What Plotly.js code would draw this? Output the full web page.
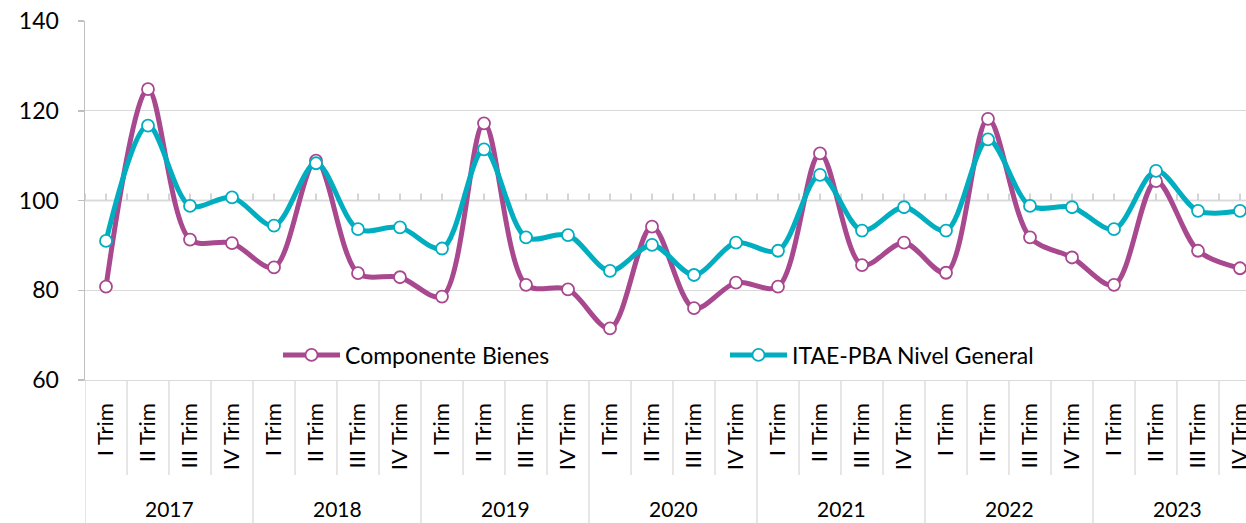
<!DOCTYPE html>
<html>
<head>
<meta charset="utf-8">
<script src="https://cdn.plot.ly/plotly-3.0.1.min.js"></script>
<style>html,body{margin:0;padding:0;background:#fff;overflow:hidden}#chart{width:1246px;height:523px}</style>
</head>
<body>
<div id="chart"></div>
<script>
const years = ["2017","2018","2019","2020","2021","2022","2023"];
const quarters = ["I Trim","II Trim","III Trim","IV Trim"];
const componenteBienes = [
  80.8,124.8,91.3,90.5,
  85.1,108.9,83.8,82.9,
  78.6,117.2,81.2,80.2,
  71.5,94.2,76.0,81.7,
  80.8,110.5,85.6,90.6,
  83.9,118.2,91.8,87.3,
  81.2,104.3,88.8,84.9
];
const itaeNivelGeneral = [
  91.0,116.7,98.8,100.7,
  94.4,108.3,93.6,94.0,
  89.3,111.4,91.8,92.3,
  84.3,90.1,83.4,90.6,
  88.8,105.7,93.3,98.5,
  93.3,113.6,98.8,98.5,
  93.6,106.6,97.7,97.7
];
const seriesNames = ["Componente Bienes","ITAE-PBA Nivel General"];
const colors = ["#A8488F","#00AEC0"];

const labels = [];
years.forEach(y => quarters.forEach(q => labels.push(q)));
const xIdx = labels.map((_, i) => i);
const n = labels.length;

const FONT = "Lato, 'Liberation Sans', sans-serif";

function trace(name, vals, color) {
  return {
    x: xIdx, y: vals, name: name, type: "scatter", mode: "lines+markers",
    line: {color: color, width: 5, shape: "spline", smoothing: 0.9},
    marker: {size: 12, color: "#ffffff", line: {color: color, width: 1.8}},
    cliponaxis: false
  };
}

const data = [
  trace(seriesNames[0], componenteBienes, colors[0]),
  trace(seriesNames[1], itaeNivelGeneral, colors[1])
];

const plotH = 359;
const shapes = [];
for (let k = 0; k <= n; k++) {
  const isYear = (k % 4 === 0);
  shapes.push({
    type: "line", xref: "x", yref: "paper",
    x0: k - 0.5, x1: k - 0.5, y0: 0, y1: isYear ? -143 / plotH : -95 / plotH,
    line: {color: "#d9d9d9", width: 1.3}, layer: "below"
  });
}
for (let k = 0; k <= 2 * n; k++) {
  shapes.push({
    type: "line", xref: "x", yref: "y", ysizemode: "pixel", yanchor: 100,
    x0: k / 2 - 0.5, x1: k / 2 - 0.5, y0: 0, y1: 7,
    line: {color: "#bfbfbf", width: 1.3}, layer: "below"
  });
}
shapes.push({type: "line", xref: "paper", yref: "y", x0: 0, x1: 1, y0: 100, y1: 100,
  line: {color: "#bfbfbf", width: 1.5}, layer: "below"});

const annotations = years.map((y, i) => ({
  text: y, xref: "x", yref: "paper", x: 4 * i + 1.5, y: -128 / plotH,
  showarrow: false, yanchor: "middle", xanchor: "center",
  font: {family: FONT, size: 21, color: "#000"}
}));

const layout = {
  width: 1246, height: 523,
  margin: {l: 85, r: 0, t: 21, b: 143},
  paper_bgcolor: "#fff", plot_bgcolor: "#fff",
  font: {family: FONT, size: 22, color: "#000"},
  showlegend: true,
  legend: {
    orientation: "h", x: (283 - 85 - 5) / 1161, xanchor: "left",
    y: 25 / plotH, yanchor: "middle",
    itemwidth: 57, entrywidth: 375, bgcolor: "rgba(0,0,0,0)",
    font: {family: FONT, size: 23, color: "#000"}
  },
  xaxis: {
    range: [-0.5, (1246 - 85) / 42 - 0.5],
    tickvals: xIdx, ticktext: labels, tickangle: -90,
    ticks: "", showgrid: false, zeroline: false,
    showline: true, linecolor: "#d9d9d9", linewidth: 1.3,
    tickfont: {family: FONT, size: 22, color: "#000"},
    ticklabelstandoff: 13, ticklabeloverflow: "allow", fixedrange: true
  },
  yaxis: {
    range: [60, 140], dtick: 20, tick0: 60,
    showgrid: true, gridcolor: "#d9d9d9", gridwidth: 1.3,
    zeroline: false, showline: true, linecolor: "#bfbfbf", linewidth: 1.5,
    ticks: "outside", ticklen: 6, tickcolor: "#bfbfbf", tickwidth: 1.5,
    tickfont: {family: FONT, size: 23, color: "#000"},
    ticklabelstandoff: 14, fixedrange: true
  },
  shapes: shapes,
  annotations: annotations
};

Plotly.newPlot("chart", data, layout, {displayModeBar: false, staticPlot: true});
</script>
</body>
</html>
